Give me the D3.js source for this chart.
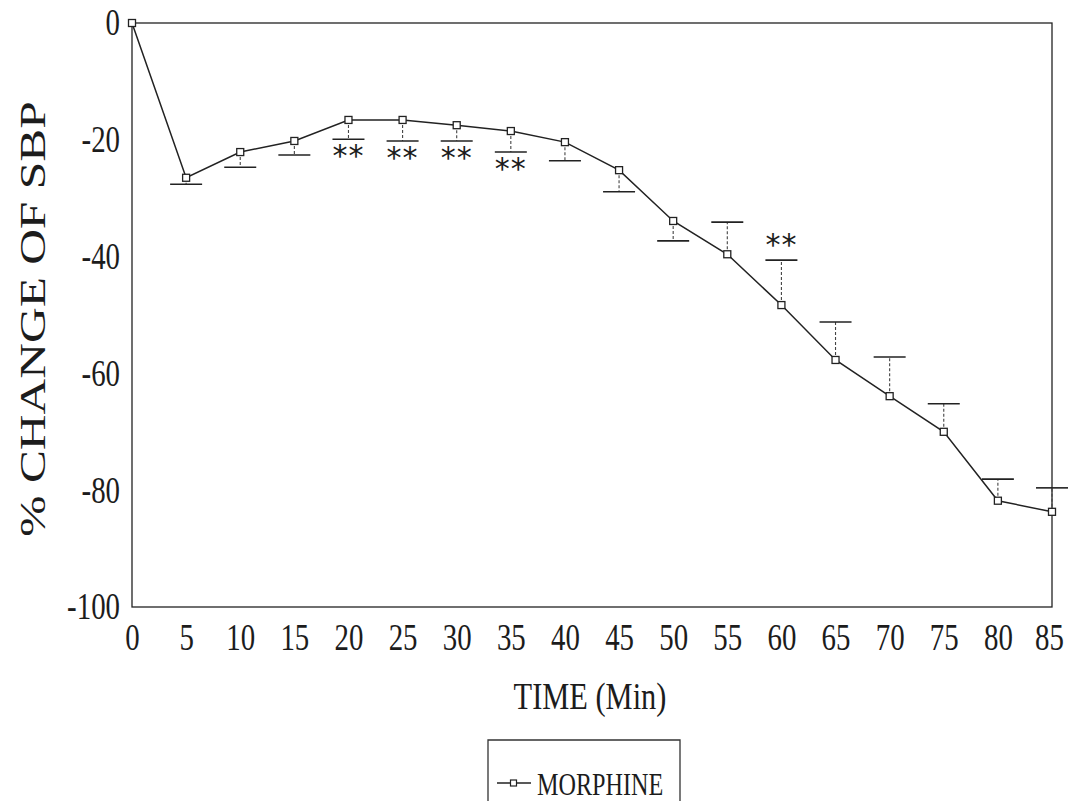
<!DOCTYPE html>
<html>
<head>
<meta charset="utf-8">
<script src="https://cdn.jsdelivr.net/npm/d3@7"></script>
<style>
  html, body { margin: 0; padding: 0; background: #fff; }
  svg { display: block; }
  text { font-family: "Liberation Serif", "DejaVu Serif", serif; fill: #1c1c1c; }
</style>
</head>
<body>
<svg id="chart" width="1071" height="801"></svg>
<script>
// Time points (min) and mean % change of systolic blood pressure
const times = [0, 5, 10, 15, 20, 25, 30, 35, 40, 45, 50, 55, 60, 65, 70, 75, 80, 85];
const meanChange = [0, -26.5, -22.1, -20.2, -16.6, -16.6, -17.5, -18.5, -20.4, -25.2, -33.9, -39.6, -48.3, -57.7, -63.9, -70.0, -81.8, -83.7];
// End of each error bar (SEM); drawn below or above the mean
const errorEnd = [null, -27.6, -24.7, -22.6, -19.9, -20.2, -20.2, -22.1, -23.6, -28.9, -37.3, -34.1, -40.6, -51.2, -57.2, -65.2, -78.1, -79.6];
// Time points marked as significant
const significant = [20, 25, 30, 35, 60];
const yTicks = [0, -20, -40, -60, -80, -100];
const seriesName = "MORPHINE";

const svg = d3.select("#chart");
const m = { left: 132, right: 1052, top: 23, bottom: 607 };

const x = d3.scaleLinear().domain([0, 85]).range([m.left, m.right]);
const y = d3.scaleLinear().domain([-100, 0]).range([m.bottom, m.top]);

// Narrow the set type horizontally, keeping its height
function squeeze(sel, k) {
  sel.each(function () {
    const w = this.getComputedTextLength();
    d3.select(this).attr("textLength", w * k).attr("lengthAdjust", "spacingAndGlyphs");
  });
}

// Frame
svg.append("rect")
  .attr("x", m.left).attr("y", m.top)
  .attr("width", m.right - m.left).attr("height", m.bottom - m.top)
  .attr("fill", "none").attr("stroke", "#222").attr("stroke-width", 1.3);

// Y axis
const yAxis = d3.axisLeft(y).tickValues(yTicks).tickSize(0).tickPadding(12).tickFormat(d => String(d));
const gy = svg.append("g").attr("transform", `translate(${m.left},0)`).call(yAxis);
gy.select(".domain").remove();
gy.selectAll("text").style("font-size", "37px").style("font-family", "Liberation Serif").attr("fill", "#1c1c1c");
squeeze(gy.selectAll("text"), 0.78);

// X axis
const xAxis = d3.axisBottom(x).tickValues(times).tickSize(0).tickPadding(17).tickFormat(d => String(d));
const gx = svg.append("g").attr("transform", `translate(0,${m.bottom})`).call(xAxis);
gx.select(".domain").remove();
gx.selectAll("text").style("font-size", "37px").style("font-family", "Liberation Serif").attr("fill", "#1c1c1c");
squeeze(gx.selectAll("text"), 0.78);
// keep the last label inside the page
gx.selectAll(".tick").filter(d => d === 85).select("text").attr("x", -3);

// Axis titles
const xTitle = svg.append("text")
  .attr("x", 590).attr("y", 709)
  .attr("text-anchor", "middle").style("font-size", "38px")
  .text("TIME (Min)");
squeeze(xTitle, 0.8);

svg.append("text")
  .attr("transform", `translate(45,${(m.top + m.bottom) / 2 + 4}) rotate(-90) scale(1.03,0.74)`)
  .attr("text-anchor", "middle").style("font-size", "48px")
  .text("% CHANGE OF SBP");

const pts = times.map((t, i) => ({ t, v: meanChange[i], e: errorEnd[i] }));

// Error bars: dotted stems, solid caps
const capHalf = 16;
const eb = svg.append("g").selectAll("g").data(pts.filter(p => p.e !== null)).join("g");
eb.append("line")
  .attr("x1", p => x(p.t)).attr("x2", p => x(p.t))
  .attr("y1", p => y(p.v)).attr("y2", p => y(p.e))
  .attr("stroke", "#444").attr("stroke-width", 1.1).attr("stroke-dasharray", "3,2");
eb.append("line")
  .attr("x1", p => x(p.t) - capHalf).attr("x2", p => x(p.t) + capHalf)
  .attr("y1", p => y(p.e)).attr("y2", p => y(p.e))
  .attr("stroke", "#222").attr("stroke-width", 1.6);

// Mean line
svg.append("path")
  .datum(pts)
  .attr("fill", "none").attr("stroke", "#222").attr("stroke-width", 1.5)
  .attr("d", d3.line().x(p => x(p.t)).y(p => y(p.v)));

// Markers
svg.append("g").selectAll("rect").data(pts).join("rect")
  .attr("x", p => x(p.t) - 3.5).attr("y", p => y(p.v) - 3.5)
  .attr("width", 7).attr("height", 7)
  .attr("fill", "#fff").attr("stroke", "#222").attr("stroke-width", 1.3);

// Significance asterisks
svg.append("g").selectAll("text").data(pts.filter(p => significant.includes(p.t))).join("text")
  .attr("x", p => x(p.t))
  .attr("y", p => p.e < p.v ? y(p.e) + 27 : y(p.e) - 5)
  .attr("text-anchor", "middle")
  .style("font-size", "30px").style("font-family", "DejaVu Sans")
  .style("letter-spacing", "1px")
  .text("**");

// Legend
const lg = svg.append("g");
lg.append("path")
  .attr("d", "M488,808 L488,740 L680,740 L680,808")
  .attr("fill", "none").attr("stroke", "#333").attr("stroke-width", 1.3);
lg.append("line").attr("x1", 497).attr("x2", 531).attr("y1", 783).attr("y2", 783)
  .attr("stroke", "#222").attr("stroke-width", 1.4);
lg.append("rect").attr("x", 510.5).attr("y", 780).attr("width", 6).attr("height", 6)
  .attr("fill", "#fff").attr("stroke", "#222").attr("stroke-width", 1.2);
const lgText = lg.append("text").attr("x", 537).attr("y", 795).style("font-size", "31px").text(seriesName);
squeeze(lgText, 0.78);
</script>
</body>
</html>
